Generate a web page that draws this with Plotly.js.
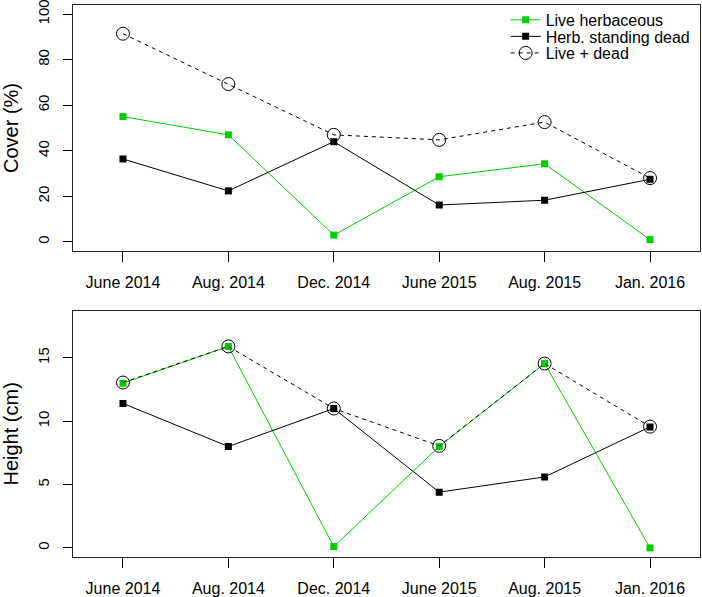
<!DOCTYPE html>
<html>
<head>
<meta charset="utf-8">
<script src="https://cdn.plot.ly/plotly-3.0.1.min.js"></script>
<style>
  body { margin: 0; background: #fff; }
  #GRAPH { width: 702px; height: 597px; }
</style>
</head>
<body>
<div id="GRAPH"></div>
<script>
var dates = ['June 2014', 'Aug. 2014', 'Dec. 2014', 'June 2015', 'Aug. 2015', 'Jan. 2016'];

// cover (%)
var coverLive = [55, 47, 3, 28.6, 34.3, 1];
var coverDead = [36.4, 22.4, 44, 16.2, 18.3, 27.5];
var coverTotal = [91.4, 69.3, 47, 44.8, 52.6, 28];

// height (cm)
var heightLive = [13, 15.9, 0.1, 8, 14.55, 0];
var heightDead = [11.4, 8, 11, 4.4, 5.6, 9.55];
var heightTotal = [13.05, 15.9, 11, 8.05, 14.55, 9.57];

var GREEN = '#00cd00';
var FONT = 'Liberation Sans, Arial, sans-serif';

function SquareTrace(ys, name, color, xaxis, yaxis, legend, show) {
  return {
    x: dates,
    y: ys,
    xaxis: xaxis,
    yaxis: yaxis,
    name: name,
    legend: legend,
    showlegend: show,
    mode: 'lines+markers',
    line: { color: color, width: 1 },
    marker: { color: color, symbol: 'square', size: 7 }
  };
}

function CircleTrace(ys, name, xaxis, yaxis, legend, show) {
  return {
    x: dates,
    y: ys,
    xaxis: xaxis,
    yaxis: yaxis,
    name: name,
    legend: legend,
    showlegend: show,
    mode: 'lines+markers',
    line: { color: '#000', width: 1, dash: '4px,4px' },
    // open symbols take their stroke colour from marker.color
    marker: { color: '#000', symbol: 'circle-open', size: 13, line: { width: 1 } }
  };
}

var traces = [
  SquareTrace(coverLive, 'Live herbaceous', GREEN, 'x', 'y', 'legend', true),
  SquareTrace(coverDead, 'Herb. standing dead', '#000', 'x', 'y', 'legend2', true),
  CircleTrace(coverTotal, 'Live + dead', 'x', 'y', 'legend3', true),
  SquareTrace(heightLive, 'Live herbaceous', GREEN, 'x2', 'y2', 'legend', false),
  SquareTrace(heightDead, 'Herb. standing dead', '#000', 'x2', 'y2', 'legend2', false),
  CircleTrace(heightTotal, 'Live + dead', 'x2', 'y2', 'legend3', false)
];

function CreateYAxis(anchor, title, range, dtick, domain) {
  return {
    anchor: anchor,
    domain: domain,
    range: range,
    dtick: dtick,
    tick0: 0,
    tickangle: -90,
    ticks: 'outside',
    ticklen: 9,
    tickcolor: '#000',
    ticklabelstandoff: 8,
    ticklabeloverflow: 'allow',
    showgrid: false,
    zeroline: false,
    showline: true,
    mirror: true,
    linecolor: '#222',
    linewidth: 1,
    tickfont: { size: 15, color: '#000' },
    title: { text: title, font: { size: 20, color: '#000' }, standoff: 10 }
  };
}

function CreateXAxis(anchor) {
  return {
    anchor: anchor,
    type: 'category',
    range: [-0.474, 5.474],
    ticks: 'outside',
    ticklen: 10,
    tickcolor: '#000',
    ticklabelstandoff: 7,
    ticklabeloverflow: 'allow',
    showgrid: false,
    zeroline: false,
    showline: true,
    mirror: true,
    linecolor: '#222',
    linewidth: 1,
    tickfont: { size: 16, color: '#000' }
  };
}

function CreateLegend(y) {
  return {
    x: 0.69,
    y: y,
    xanchor: 'left',
    yanchor: 'middle',
    bgcolor: 'rgba(0,0,0,0)',
    itemwidth: 30,
    font: { size: 16, color: '#000' }
  };
}

var layout = {
  width: 702,
  height: 597,
  margin: { l: 73, r: 2, t: 5, b: 40 },
  paper_bgcolor: '#fff',
  plot_bgcolor: '#fff',
  font: { family: FONT, color: '#000' },
  xaxis: CreateXAxis('y'),
  xaxis2: CreateXAxis('y2'),
  yaxis: CreateYAxis('x', 'Cover (%)', [-4, 104], 20, [0.5543, 1]),
  yaxis2: CreateYAxis('x2', 'Height (cm)', [-0.72, 18.72], 5, [0, 0.4462]),
  legend: CreateLegend(0.973),
  legend2: CreateLegend(0.943),
  legend3: CreateLegend(0.913)
};

Plotly.newPlot('GRAPH', traces, layout, { displayModeBar: false, staticPlot: true });
</script>
</body>
</html>
